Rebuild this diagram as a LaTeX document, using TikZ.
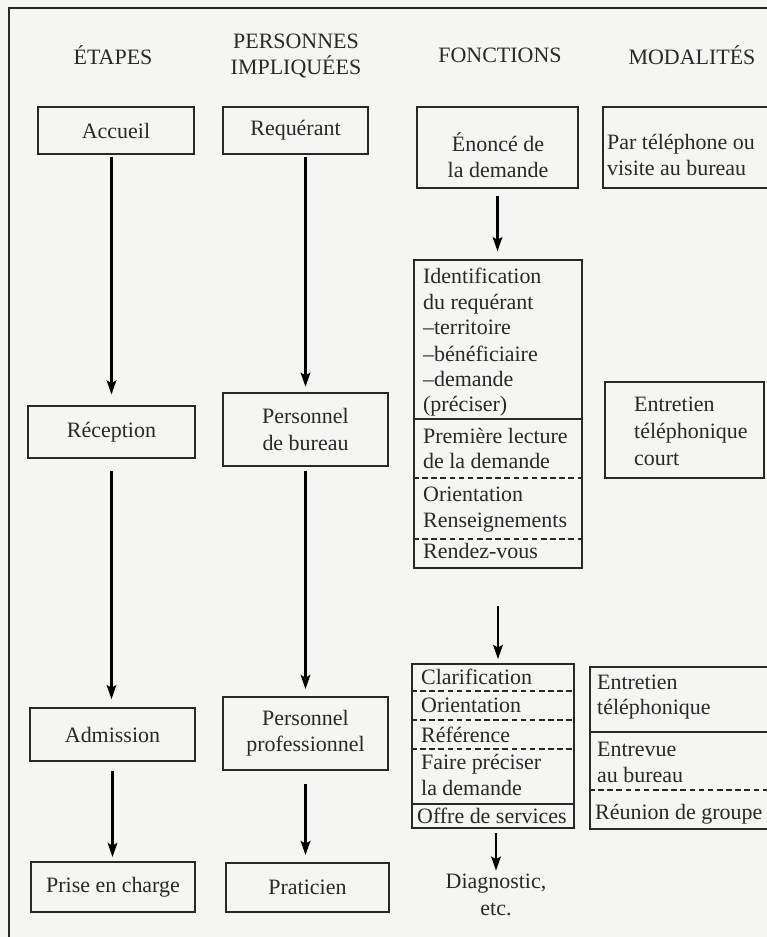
\documentclass[tikz,border=0pt]{standalone}
\usepackage{fontspec}
\setmainfont{Liberation Serif}
\usetikzlibrary{arrows.meta}
\definecolor{ink}{RGB}{40,40,40}
\definecolor{paper}{RGB}{245,245,243}
\tikzset{
  head/.style={text=ink, inner sep=0pt, align=center, font=\fontsize{12.5}{15}\selectfont},
  stagebox/.style={draw=ink, line width=1.1pt, inner sep=0pt, align=center, text=ink, font=\fontsize{12.5}{15}\selectfont},
  ligne/.style={anchor=west, inner sep=0pt, text=ink, text height=7pt, text depth=0pt, font=\fontsize{12.5}{15}\selectfont},
  septrait/.style={draw=ink, line width=1pt},
  seppoint/.style={draw=ink, line width=1.2pt, dash pattern=on 3.2pt off 2pt},
  frame/.style={draw=ink, line width=1.6pt},
}
\begin{document}
\begin{tikzpicture}[x=0.02cm, y=-0.02cm, >={Stealth[length=8pt,width=5.5pt,inset=1.5pt]}, line width=1.3pt]
    \useasboundingbox (0,0) rectangle (767,937);
    \fill [paper] (0,0) rectangle (767,937);
    \clip (0,0) rectangle (767,937);
    \draw [frame] (9,937) -- (9,8) -- (767,8);

    % en-tetes
    \node [head] (hetap) at (113,55) {ÉTAPES};
    \node [head] (hpers) at (296,56) {PERSONNES\\IMPLIQUÉES};
    \node [head] (hfonc) at (500,55) {FONCTIONS};
    \node [head] (hmoda) at (692,55) {MODALITÉS};

    % etapes
    \node [stagebox, minimum width=3.12cm, minimum height=0.94cm] (acc) at (116,130.5) {Accueil};
    \node [stagebox, minimum width=3.34cm, minimum height=1.04cm] (rec) at (111.5,432) {Réception};
    \node [stagebox, minimum width=3.3cm, minimum height=1.06cm] (adm) at (112.5,734.5) {Admission};
    \node [stagebox, minimum width=3.28cm, minimum height=1cm] (prise) at (113,887) {Prise en charge};

    % personnes impliquees
    \node [stagebox, minimum width=2.9cm, minimum height=0.94cm] (req) at (295.5,130.5) {Requérant};
    \node [stagebox, minimum width=3.3cm, minimum height=1.46cm] (pbur) at (305.5,429.5) {Personnel\\de bureau};
    \node [stagebox, minimum width=3.3cm, minimum height=1.46cm] (ppro) at (305.5,733.5) {Personnel\\professionnel};
    \node [stagebox, minimum width=3.26cm, minimum height=0.98cm] (prat) at (307.5,887.5) {Praticien};

    % fonctions
    \node [stagebox, minimum width=3.22cm, minimum height=1.62cm] (enon) at (497.5,147.5) {};
    \node [head] (enontxt) at (498,155) {Énoncé de\\la demande};
    \node [stagebox, minimum width=3.36cm, minimum height=6.16cm] (iden) at (498,414) {};
    \node [ligne] (i1) at (422,277) {Identification};
    \node [ligne] (i2) at (422,303) {du requérant};
    \node [ligne] (i3) at (422,328) {–territoire};
    \node [ligne] (i4) at (422,355) {–bénéficiaire};
    \node [ligne] (i5) at (422,380) {–demande};
    \node [ligne] (i6) at (422,405) {(préciser)};
    \node [ligne] (i7) at (422,437) {Première lecture};
    \node [ligne] (i8) at (422,462) {de la demande};
    \node [ligne] (i9) at (422,495) {Orientation};
    \node [ligne] (i10) at (422,521) {Renseignements};
    \node [ligne] (i11) at (422,552) {Rendez-vous};
    \draw [septrait] (iden.west |- 0,419) -- (iden.east |- 0,419);
    \draw [seppoint] (iden.west |- 0,478) -- (iden.east |- 0,478);
    \draw [seppoint] (iden.west |- 0,539) -- (iden.east |- 0,539);

    \node [stagebox, minimum width=3.24cm, minimum height=3.28cm] (clar) at (493,746) {};
    \node [ligne] (c1) at (420,678) {Clarification};
    \node [ligne] (c2) at (420,706) {Orientation};
    \node [ligne] (c3) at (420,736) {Référence};
    \node [ligne] (c4) at (420,763) {Faire préciser};
    \node [ligne] (c5) at (420,789) {la demande};
    \node [ligne] (c6) at (416,817) {Offre de services};
    \draw [seppoint] (clar.west |- 0,691) -- (clar.east |- 0,691);
    \draw [seppoint] (clar.west |- 0,720) -- (clar.east |- 0,720);
    \draw [seppoint] (clar.west |- 0,749) -- (clar.east |- 0,749);
    \draw [septrait] (clar.west |- 0,804) -- (clar.east |- 0,804);

    \node [head] (diag) at (496,895) {Diagnostic,\\etc.};

    % modalites
    \node [stagebox, minimum width=3.44cm, minimum height=1.62cm] (tel) at (689,147.5) {};
    \node [head, anchor=west, align=left] (teltxt) at (606,155) {Par téléphone ou\\visite au bureau};
    \node [stagebox, minimum width=3.18cm, minimum height=1.92cm] (cour) at (684.5,430) {};
    \node [ligne] (e1) at (633,405) {Entretien};
    \node [ligne] (e2) at (633,432) {téléphonique};
    \node [ligne] (e3) at (633,459) {court};
    \node [stagebox, minimum width=3.7cm, minimum height=3.24cm] (moda) at (682.5,748) {};
    \node [ligne] (m1) at (596,683) {Entretien};
    \node [ligne] (m2) at (596,708) {téléphonique};
    \node [ligne] (m3) at (596,750) {Entrevue};
    \node [ligne] (m4) at (596,776) {au bureau};
    \node [ligne] (m5) at (594,813) {Réunion de groupe};
    \draw [septrait] (moda.west |- 0,732) -- (moda.east |- 0,732);
    \draw [seppoint] (moda.west |- 0,790) -- (moda.east |- 0,790);

    % fleches
    \draw [->, shorten <=1pt, shorten >=6pt] (acc.south -| rec.north) -- (rec.north);
    \draw [->, shorten <=7pt, shorten >=4.5pt] (rec.south) -- (rec.south |- adm.north);
    \draw [->, shorten <=5pt, shorten >=2.3pt] (adm.south) -- (adm.south |- prise.north);
    \draw [->, shorten <=1pt, shorten >=3pt] (req.south -| pbur.north) -- (pbur.north);
    \draw [->, shorten <=2.3pt, shorten >=4pt] (pbur.south) -- (ppro.north);
    \draw [->, shorten <=7.4pt, shorten >=4pt] (ppro.south) -- (ppro.south |- prat.north);
    \draw [->, shorten <=4pt, shorten >=4.5pt] (enon.south) -- (enon.south |- iden.north);
    \draw [->, shorten <=21pt, shorten >=2.3pt] (iden.south) -- (iden.south |- clar.north);
    \draw [->, shorten <=2.3pt, shorten >=1.5pt] (clar.south -| diag.north) -- (diag.north);
\end{tikzpicture}
\end{document}
